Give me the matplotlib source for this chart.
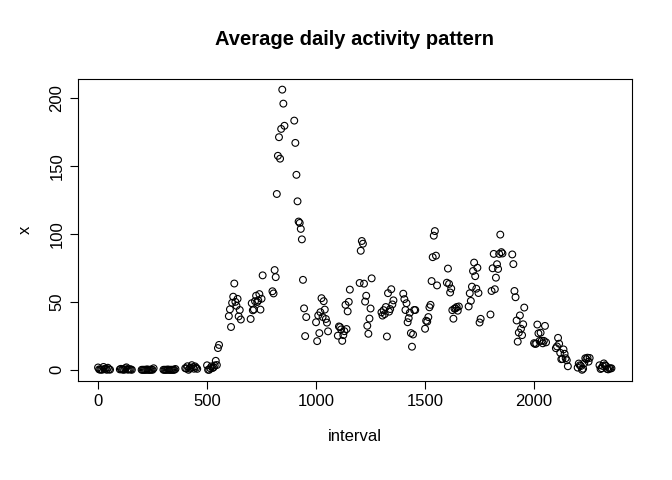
import matplotlib
matplotlib.use("Agg")
import matplotlib.pyplot as plt
import numpy as np

plt.rcParams['font.family'] = ['Liberation Sans', 'DejaVu Sans']

hours = list(range(24))
minutes = list(range(0, 60, 5))
interval = [h * 100 + m for h in hours for m in minutes]

steps = [
    1.7, 0.3, 0.1, 0.2, 0.1, 2.1, 0.5, 0.9, 0.0, 1.5, 0.3, 0.1,
    0.3, 0.7, 0.2, 0.3, 0.0, 1.1, 1.8, 0.2, 0.2, 0.4, 0.3, 0.0,
    0.0, 0.0, 0.0, 0.0, 0.0, 0.3, 0.0, 0.0, 0.0, 0.2, 0.0, 1.1,
    0.0, 0.0, 0.0, 0.0, 0.2, 0.0, 0.0, 0.0, 0.0, 0.0, 0.0, 0.6,
    1.2, 0.9, 2.6, 0.0, 0.9, 1.5, 3.4, 1.9, 0.8, 2.5, 1.5, 0.7,
    3.3, 0.0, 0.0, 1.1, 2.5, 1.3, 1.8, 3.2, 6.6, 3.5, 16.0, 18.3,
    39.5, 44.5, 31.5, 49.3, 53.8, 63.5, 50.0, 47.1, 52.2, 39.3, 44.0, 37.0,
    37.4, 49.0, 43.8, 44.4, 50.5, 54.5, 49.9, 51.0, 55.7, 44.3, 52.3, 69.5,
    57.8, 56.2, 73.4, 68.2, 129.4, 157.5, 171.2, 155.4, 177.3, 206.2, 195.9, 179.6,
    183.4, 167.0, 143.5, 124.0, 109.1, 108.1, 103.7, 96.0, 66.2, 45.2, 24.8, 38.8,
    35.0, 21.1, 40.0, 27.0, 42.4, 52.7, 38.9, 50.5, 44.3, 37.4, 34.7, 28.3,
    25.1, 31.9, 31.4, 29.7, 21.3, 25.5, 28.4, 47.8, 30.0, 43.0, 50.0, 59.0,
    63.9, 87.6, 94.8, 92.8, 63.4, 50.2, 54.5, 32.4, 26.5, 37.7, 45.1, 67.3,
    42.3, 39.9, 43.9, 41.0, 46.2, 24.5, 56.4, 42.8, 44.7, 59.3, 48.1, 51.1,
    56.0, 52.0, 44.0, 49.0, 35.0, 38.0, 42.0, 27.0, 17.0, 26.0, 44.0, 44.0,
    30.2, 36.1, 35.5, 38.8, 46.0, 47.8, 65.3, 82.9, 98.7, 102.1, 84.0, 62.1,
    64.1, 74.5, 63.2, 56.9, 59.8, 43.9, 37.6, 45.0, 45.2, 46.2, 43.5, 46.6,
    46.6, 56.3, 50.7, 61.2, 72.7, 78.9, 68.9, 59.7, 75.1, 56.5, 34.8, 37.5,
    40.7, 58.0, 74.7, 85.3, 59.3, 67.8, 77.7, 74.2, 85.3, 99.5, 86.6, 85.6,
    84.9, 77.8, 58.0, 53.4, 36.3, 20.7, 27.4, 40.0, 30.2, 25.5, 33.5, 45.8,
    19.6, 19.0, 19.3, 33.3, 26.8, 21.2, 27.3, 21.3, 19.5, 21.3, 32.3, 20.2,
    15.9, 17.2, 23.5, 19.2, 12.5, 7.8, 8.0, 15.0, 11.8, 8.5, 7.0, 2.6,
    1.6, 4.6, 3.3, 2.8, 0.0, 0.8, 4.7, 8.5, 7.8, 8.9, 6.0, 8.7,
    3.3, 0.6, 1.2, 2.8, 4.7, 3.3, 2.8, 0.6, 0.3, 1.1, 1.0, 1.1,
]

fig = plt.figure(figsize=(6.72, 4.8), dpi=100)
ax = fig.add_axes([77.5/672, 1-381/480, (632-77.5)/672, (381-78.5)/480])
ax.scatter(interval, steps, s=24, facecolors='none', edgecolors='black', linewidths=0.8)
ax.set_xlim(-94.2, 2449.2)
ax.set_ylim(-8.25, 214.4)
ax.set_xticks([0, 500, 1000, 1500, 2000])
ax.set_yticks([0, 50, 100, 150, 200])
ax.tick_params(axis='both', labelsize=12, direction='out', length=6)
for lab in ax.get_yticklabels():
    lab.set_rotation(90)
    lab.set_va('center')
ax.set_xlabel('interval', fontsize=12, labelpad=14)
ax.set_ylabel('x', fontsize=12, labelpad=12)
ax.set_title('Average daily activity pattern', fontsize=14.5, fontweight='bold', pad=24)
fig.savefig('out.png', dpi=100)
